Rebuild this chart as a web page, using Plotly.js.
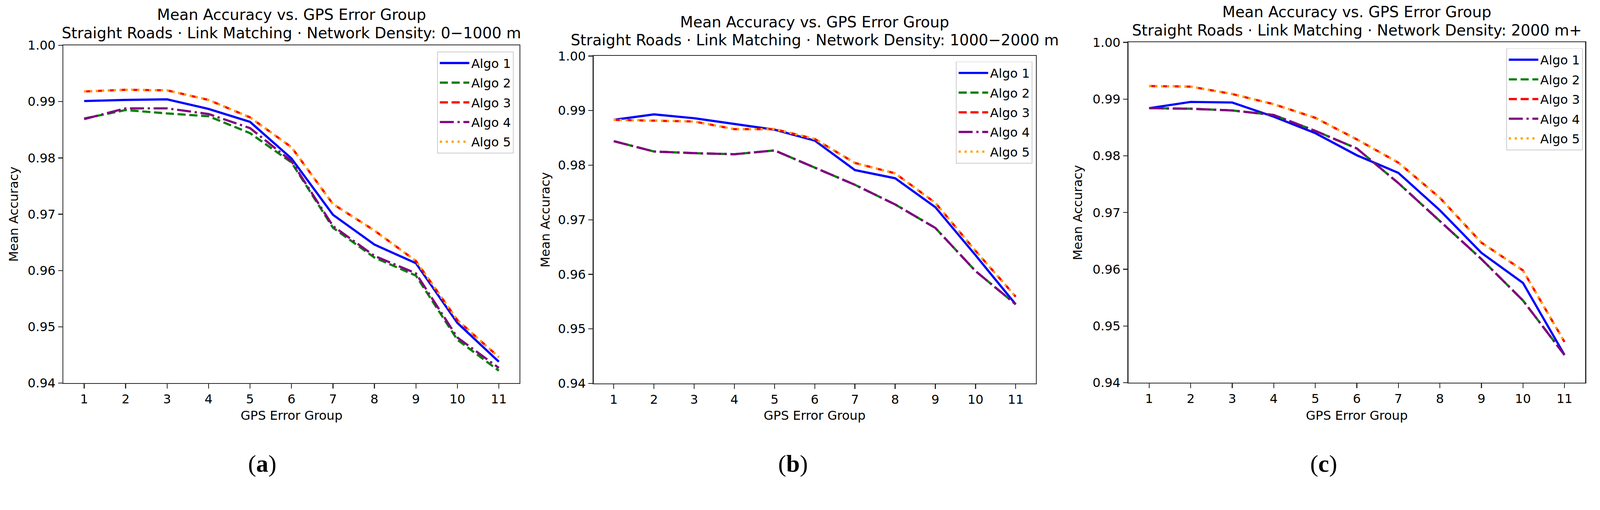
<!DOCTYPE html>
<html>
<head>
<meta charset="utf-8">
<script src="https://cdn.plot.ly/plotly-3.0.1.min.js"></script>
<style>html,body{margin:0;padding:0;background:#fff;overflow:hidden;}</style>
</head>
<body>
<div id="chart"></div>
<script>
// ---------- data ----------
const groups = [1, 2, 3, 4, 5, 6, 7, 8, 9, 10, 11];
const algoNames = ["Algo 1", "Algo 2", "Algo 3", "Algo 4", "Algo 5"];
const yTickVals = [0.94, 0.95, 0.96, 0.97, 0.98, 0.99, 1.00];
const yTickText = ["0.94", "0.95", "0.96", "0.97", "0.98", "0.99", "1.00"];

const titleLine1 = "Mean Accuracy vs. GPS Error Group";
const panelSubtitles = [
  "Straight Roads · Link Matching · Network Density: 0\u22121000 m",
  "Straight Roads · Link Matching · Network Density: 1000\u22122000 m",
  "Straight Roads · Link Matching · Network Density: 2000 m+"
];
const panelLabels = ["a", "b", "c"];

// Panel (a): 0-1000 m
const a_algo1 = [0.9901, 0.9903, 0.9904, 0.9887, 0.9864, 0.9799, 0.9699, 0.9646, 0.9613, 0.9507, 0.9438];
const a_algo2 = [0.9870, 0.9885, 0.9879, 0.9874, 0.9844, 0.9792, 0.9676, 0.9623, 0.9591, 0.9477, 0.9422];
const a_algo3 = [0.9918, 0.9921, 0.9920, 0.9903, 0.9872, 0.9819, 0.9718, 0.9671, 0.9617, 0.9512, 0.9446];
const a_algo4 = [0.9869, 0.9888, 0.9888, 0.9878, 0.9853, 0.9794, 0.9679, 0.9626, 0.9595, 0.9481, 0.9427];
const a_algo5 = [0.9918, 0.9921, 0.9920, 0.9903, 0.9872, 0.9819, 0.9718, 0.9671, 0.9617, 0.9512, 0.9446];

// Panel (b): 1000-2000 m
const b_algo1 = [0.9883, 0.9893, 0.9886, 0.9876, 0.9865, 0.9845, 0.9791, 0.9776, 0.9723, 0.9635, 0.9545];
const b_algo2 = [0.9844, 0.9825, 0.9822, 0.9820, 0.9827, 0.9795, 0.9764, 0.9728, 0.9685, 0.9606, 0.9545];
const b_algo3 = [0.9883, 0.9882, 0.9880, 0.9866, 0.9866, 0.9848, 0.9804, 0.9785, 0.9731, 0.9643, 0.9559];
const b_algo4 = [0.9844, 0.9825, 0.9822, 0.9820, 0.9827, 0.9795, 0.9764, 0.9728, 0.9685, 0.9606, 0.9545];
const b_algo5 = [0.9883, 0.9882, 0.9880, 0.9866, 0.9866, 0.9848, 0.9804, 0.9785, 0.9731, 0.9643, 0.9559];

// Panel (c): 2000 m+
const c_algo1 = [0.9884, 0.9895, 0.9894, 0.9869, 0.9840, 0.9801, 0.9770, 0.9704, 0.9629, 0.9576, 0.9449];
const c_algo2 = [0.9884, 0.9883, 0.9880, 0.9872, 0.9844, 0.9813, 0.9752, 0.9685, 0.9618, 0.9545, 0.9449];
const c_algo3 = [0.9923, 0.9922, 0.9909, 0.9891, 0.9867, 0.9829, 0.9788, 0.9726, 0.9647, 0.9598, 0.9472];
const c_algo4 = [0.9884, 0.9883, 0.9880, 0.9872, 0.9844, 0.9813, 0.9752, 0.9685, 0.9618, 0.9545, 0.9449];
const c_algo5 = [0.9923, 0.9922, 0.9909, 0.9891, 0.9867, 0.9829, 0.9788, 0.9726, 0.9647, 0.9598, 0.9472];

// ---------- styling / layout ----------
const W0 = 4339, H0 = 1306;
const vw = window.innerWidth || W0, vh = window.innerHeight || H0;
const S = Math.min(vw / W0, vh / H0);
const W = Math.floor(W0 * S), H = Math.floor(H0 * S);
const z = v => v * S;
const FONT = "DejaVu Sans";
const dashStr = arr => arr.map(v => z(v).toFixed(2) + "px").join(",");
const styles = [
  {color: "#0000ff", dash: "solid"},
  {color: "#008000", dash: dashStr([22, 10])},
  {color: "#ff0000", dash: dashStr([22, 10])},
  {color: "#800080", dash: dashStr([38, 10, 6, 10])},
  {color: "#ffa500", dash: dashStr([6, 10])}
];
const panelData = [
  [a_algo1, a_algo2, a_algo3, a_algo4, a_algo5],
  [b_algo1, b_algo2, b_algo3, b_algo4, b_algo5],
  [c_algo1, c_algo2, c_algo3, c_algo4, c_algo5]
];
// plot areas in reference pixels: left, right, top, bottom
const boxes = [
  {l: 172, r: 1409, t: 123, b: 1040, ylab: 37, cap: 711, t1: 40, t2: 90, leg: {r: 1393, t: 140}},
  {l: 1610, r: 2809, t: 152, b: 1041, ylab: 1478, cap: 2150, t1: 60, t2: 109, leg: {r: 2800, t: 167}},
  {l: 3060, r: 4299, t: 115, b: 1039, ylab: 2923, cap: 3589, t1: 32, t2: 82, leg: {r: 4292, t: 131}}
];
const px = x => x / W0;
const py = y => 1 - y / H0;

document.getElementById("chart").style.width = W + "px";
document.getElementById("chart").style.height = H + "px";

const traces = [];
const layout = {
  width: W, height: H,
  margin: {l: 0, r: 0, t: 0, b: 0},
  paper_bgcolor: "#ffffff",
  plot_bgcolor: "#ffffff",
  font: {family: FONT, size: z(34), color: "#000000"},
  annotations: []
};

boxes.forEach((bx, i) => {
  const sfx = i === 0 ? "" : String(i + 1);
  const legName = "legend" + sfx;
  panelData[i].forEach((vals, k) => {
    traces.push({
      type: "scatter", mode: "lines",
      x: groups, y: vals,
      name: algoNames[k],
      legendgroup: "p" + i + "_" + k,
      xaxis: "x" + sfx, yaxis: "y" + sfx,
      legend: legName,
      line: {color: styles[k].color, width: z(6), dash: styles[k].dash},
      hoverinfo: "x+y+name"
    });
  });
  const axCommon = {
    showline: true, linecolor: "#262626", linewidth: z(2.5), mirror: true,
    ticks: "outside", ticklen: z(12), tickwidth: z(2.5), tickcolor: "#262626",
    showgrid: false, zeroline: false,
    tickfont: {family: FONT, size: z(34), color: "#000000"}
  };
  layout["xaxis" + sfx] = Object.assign({}, axCommon, {
    domain: [px(bx.l), px(bx.r)],
    anchor: "y" + sfx,
    range: [0.5, 11.5],
    tickmode: "array", tickvals: groups, ticktext: groups.map(String),
    ticklabelstandoff: z(11)
  });
  layout["yaxis" + sfx] = Object.assign({}, axCommon, {
    domain: [py(bx.b), py(bx.t)],
    anchor: "x" + sfx,
    range: [0.94, 1.00],
    tickmode: "array", tickvals: yTickVals, ticktext: yTickText,
    ticklabelstandoff: z(9)
  });
  layout[legName] = {
    x: px(bx.leg.r), y: py(bx.leg.t), xanchor: "right", yanchor: "top",
    bgcolor: "rgba(255,255,255,0.8)", bordercolor: "#cccccc", borderwidth: z(2),
    font: {family: FONT, size: z(34), color: "#000000"},
    itemwidth: z(80),
    tracegroupgap: z(6)
  };
  const cx = px((bx.l + bx.r) / 2);
  layout.annotations.push(
    {text: titleLine1, x: cx, y: py(bx.t1), xref: "paper", yref: "paper",
     xanchor: "center", yanchor: "middle", showarrow: false,
     font: {family: FONT, size: z(41), color: "#000000"}},
    {text: panelSubtitles[i], x: cx, y: py(bx.t2), xref: "paper", yref: "paper",
     xanchor: "center", yanchor: "middle", showarrow: false,
     font: {family: FONT, size: z(41), color: "#000000"}},
    {text: "GPS Error Group", x: cx, y: py(1128), xref: "paper", yref: "paper",
     xanchor: "center", yanchor: "middle", showarrow: false,
     font: {family: FONT, size: z(34), color: "#000000"}},
    {text: "Mean Accuracy", x: px(bx.ylab), y: py((bx.t + bx.b) / 2), xref: "paper", yref: "paper",
     xanchor: "center", yanchor: "middle", textangle: -90, showarrow: false,
     font: {family: FONT, size: z(34), color: "#000000"}},
    {text: "(<b>" + panelLabels[i] + "</b>)", x: px(bx.cap), y: py(1258), xref: "paper", yref: "paper",
     xanchor: "center", yanchor: "middle", showarrow: false,
     font: {family: "Liberation Serif", size: z(66), color: "#000000"}}
  );
});

Plotly.newPlot("chart", traces, layout, {displayModeBar: false, staticPlot: true});
</script>
</body>
</html>
